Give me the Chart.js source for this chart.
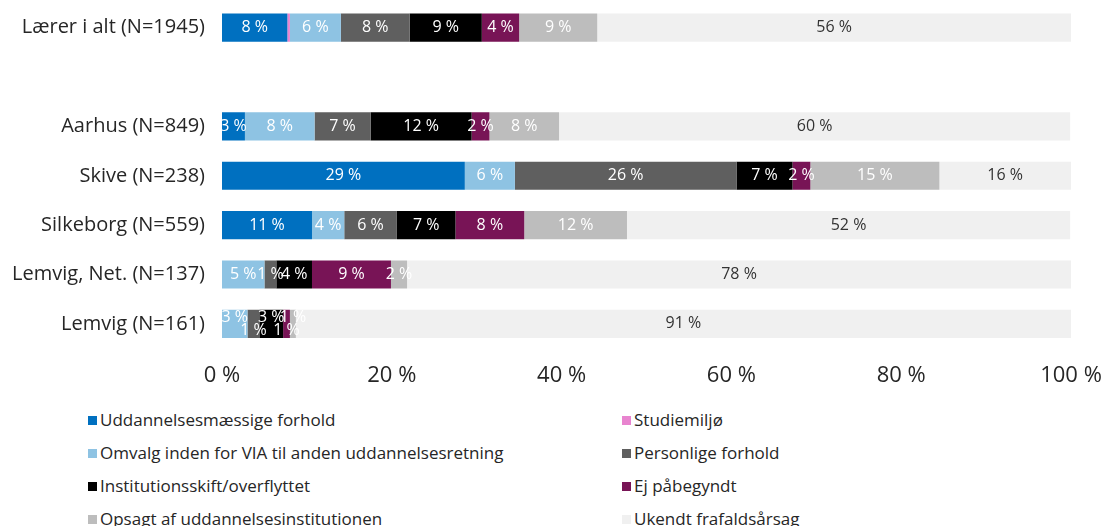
<!DOCTYPE html>
<html>
<head>
<meta charset="utf-8">
<script src="https://cdn.jsdelivr.net/npm/chart.js@4"></script>
<style>
  body { margin: 0; background: #fff; font-family: "Open Sans", sans-serif; }
  #wrap { position: relative; width: 1104px; height: 526px; }
  #myChart { position: absolute; left: 0; top: 0; }
  .leg { position: absolute; font-size: 17px; color: #262626; white-space: nowrap; line-height: 20px; }
  .leg span { display: inline-block; width: 9px; height: 9px; margin-right: 3px; vertical-align: 1px; }
</style>
</head>
<body>
<div id="wrap">
  <canvas id="myChart" width="1104" height="403"></canvas>
  <div id="legend"></div>
</div>
<script>
// categories (blank entry = empty row between total and locations)
const categories = ['Lærer i alt (N=1945)', '', 'Aarhus (N=849)', 'Skive (N=238)', 'Silkeborg (N=559)', 'Lemvig, Net. (N=137)', 'Lemvig (N=161)']

// share of dropouts per reason, in %
const uddannelse = [7.7, null, 2.7, 28.6, 10.6, 0, 0]
const studiemiljo = [0.3, null, 0, 0, 0, 0, 0]
const omvalg = [6.0, null, 8.2, 5.9, 3.8, 5.0, 3.0]
const personlige = [8.1, null, 6.6, 26.1, 6.2, 1.4, 1.4]
const institution = [8.5, null, 11.9, 6.6, 6.9, 4.2, 2.8]
const ejPaabegyndt = [4.4, null, 2.1, 2.1, 8.1, 9.3, 0.8]
const opsagt = [9.2, null, 8.2, 15.2, 12.1, 1.9, 0.7]
const ukendt = [55.8, null, 60.2, 15.5, 52.2, 78.2, 91.3]

const tickValues = [0, 20, 40, 60, 80, 100]

const series = [
    { label: 'Uddannelsesmæssige forhold', data: uddannelse, color: '#0070c0' },
    { label: 'Studiemiljø', data: studiemiljo, color: '#e884cf' },
    { label: 'Omvalg inden for VIA til anden uddannelsesretning', data: omvalg, color: '#8ec3e3' },
    { label: 'Personlige forhold', data: personlige, color: '#5f5f5f' },
    { label: 'Institutionsskift/overflyttet', data: institution, color: '#000000' },
    { label: 'Ej påbegyndt', data: ejPaabegyndt, color: '#781456' },
    { label: 'Opsagt af uddannelsesinstitutionen', data: opsagt, color: '#bdbdbd' },
    { label: 'Ukendt frafaldsårsag', data: ukendt, color: '#f0f0f0' },
]

// rows where the small labels are staggered up/down
const staggerRows = [6]

const barLabels = {
    id: 'barLabels',
    afterDatasetsDraw(chart) {
        const ctx = chart.ctx
        ctx.save()
        ctx.font = '16px "Open Sans"'
        ctx.textAlign = 'center'
        ctx.textBaseline = 'middle'
        const flip = {}
        chart.data.datasets.forEach((ds, i) => {
            const meta = chart.getDatasetMeta(i)
            meta.data.forEach((bar, j) => {
                const v = ds.data[j]
                if (v == null || Math.round(v) === 0) return
                let y = bar.y
                if (staggerRows.includes(j) && i < chart.data.datasets.length - 1) {
                    flip[j] = !flip[j]
                    y += flip[j] ? -6 : 7
                }
                ctx.fillStyle = i === chart.data.datasets.length - 1 ? '#333333' : '#ffffff'
                ctx.fillText(Math.round(v) + ' %', (bar.x + bar.base) / 2, y)
            })
        })
        ctx.restore()
    }
}

const ctx = document.getElementById('myChart')
new Chart(ctx, {
    type: 'bar',
    data: {
        labels: categories,
        datasets: series.map(s => ({
            label: s.label,
            data: s.data,
            backgroundColor: s.color,
            borderWidth: 0,
            barPercentage: 0.57,
            categoryPercentage: 1,
        }))
    },
    options: {
        indexAxis: 'y',
        responsive: false,
        animation: false,
        layout: { padding: { left: 0, right: 33, top: 3, bottom: 8 } },
        scales: {
            x: {
                stacked: true,
                min: 0,
                max: 100,
                grid: { display: false },
                border: { display: false },
                afterBuildTicks: (scale) => { scale.ticks = tickValues.map(v => ({ value: v })) },
                afterFit: (scale) => { scale.paddingLeft = 0; scale.paddingRight = 0 },
                ticks: {
                    padding: 6,
                    color: '#262626',
                    maxRotation: 0,
                    font: { family: 'Open Sans', size: 22 },
                    callback: (v) => v + ' %',
                }
            },
            y: {
                stacked: true,
                grid: { display: false },
                border: { display: false },
                afterFit: (scale) => { scale.width = 222; scale.paddingTop = 0; scale.paddingBottom = 0 },
                ticks: {
                    padding: 9,
                    color: '#262626',
                    font: { family: 'Open Sans', size: 20 },
                }
            }
        },
        plugins: {
            legend: { display: false },
            tooltip: { enabled: false },
        }
    },
    plugins: [barLabels]
})

// legend in two columns below the chart
const legend = document.getElementById('legend')
series.forEach((s, i) => {
    const col = i % 2
    const row = Math.floor(i / 2)
    const el = document.createElement('div')
    el.className = 'leg'
    el.style.left = (col === 0 ? 88 : 622) + 'px'
    el.style.top = (410 + row * 33) + 'px'
    el.innerHTML = `<span style="background:${s.color}"></span>${s.label}`
    legend.appendChild(el)
})
</script>
</body>
</html>
